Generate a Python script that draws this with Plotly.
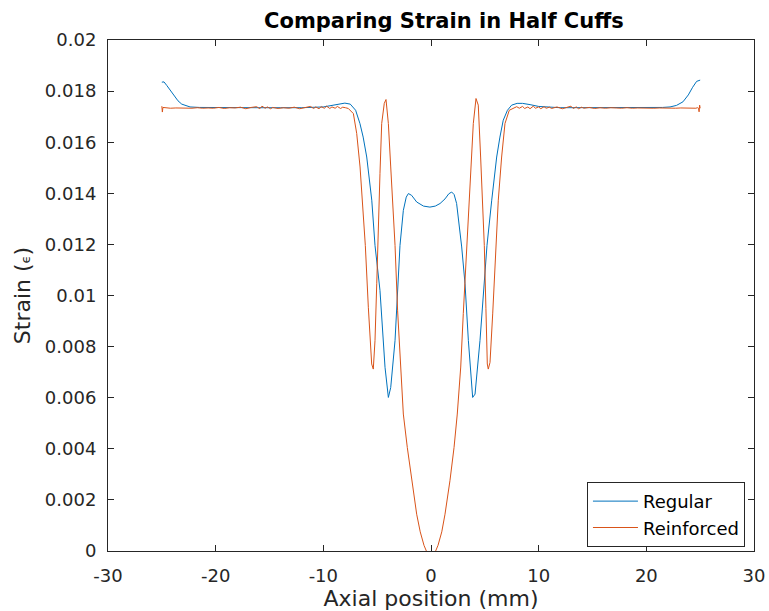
import plotly.graph_objects as go

# ---------------- data ----------------
regular_x = [-25.0, -24.8, -24.54, -24.2, -23.93, -23.5, -23.15, -22.7, -22.38, -21.5,
             -20.0, -18.0, -16.0, -14.0, -12.0, -10.0, -9.1, -8.5, -8.0, -7.5,
             -7.0, -6.6, -6.3, -5.97, -5.5, -5.2, -4.74, -4.27, -3.96, -3.74,
             -3.34, -2.88, -2.57, -2.3, -2.1, -1.8, -1.33, -0.7, -0.1, 0.4,
             0.84, 1.3, 1.65, 1.92, 2.15, 2.38, 2.85, 3.16, 3.47, 3.87,
             4.09, 4.55, 5.01, 5.2, 5.64, 6.1, 6.4, 6.71, 7.1, 7.49,
             8.0, 8.5, 9.2, 10.0, 12.0, 14.0, 16.0, 18.0, 20.0, 21.5,
             22.2, 22.8, 23.4, 23.9, 24.3, 24.67, 25.0]
regular_y = [0.01835, 0.01836, 0.01822, 0.01802, 0.01784, 0.01762, 0.01749, 0.01741, 0.01738, 0.01736,
             0.01735, 0.01735, 0.01735, 0.01735, 0.01735, 0.01738, 0.01745, 0.0175, 0.01753, 0.01749,
             0.01725, 0.01673, 0.0162, 0.01542, 0.01373, 0.01196, 0.0102, 0.00719, 0.00601, 0.0064,
             0.00824, 0.01196, 0.01333, 0.01385, 0.01399, 0.01392, 0.01366, 0.0135, 0.01346, 0.0135,
             0.0136, 0.01378, 0.01398, 0.01405, 0.01395, 0.0136, 0.0119, 0.01046, 0.00824, 0.00601,
             0.00614, 0.00824, 0.01085, 0.01196, 0.01373, 0.01542, 0.0162, 0.01686, 0.01725, 0.01745,
             0.01752, 0.01752, 0.01747, 0.0174, 0.01735, 0.01735, 0.01735, 0.01735, 0.01735, 0.01736,
             0.01738, 0.01744, 0.01758, 0.01785, 0.01815, 0.01838, 0.01843]

reinforced_x = [-25.0, -24.95, -24.9, -24.6, -24.2, -23.7, -23.2, -22.7, -22.2, -21.7,
                -21.2, -20.7, -20.2, -19.7, -19.2, -18.7, -18.2, -17.7, -17.2, -16.7,
                -16.2, -15.9, -15.7, -15.4, -15.2, -14.9, -14.7, -14.2, -13.7, -13.2,
                -12.7, -12.2, -11.7, -11.2, -10.9, -10.7, -10.4, -10.2, -9.9, -9.7,
                -9.4, -9.2, -8.9, -8.7, -8.4, -8.2, -7.95, -7.68, -7.21, -6.9,
                -6.59, -6.34, -6.1, -5.82, -5.51, -5.36, -5.2, -5.04, -4.89, -4.74,
                -4.58, -4.34, -4.18, -3.96, -3.74, -3.5, -3.34, -3.1, -2.85, -2.57,
                -2.2, -1.79, -1.33, -1.0, -0.65, -0.35, 0.0, 0.35, 0.65, 1.0,
                1.3, 1.76, 2.14, 2.44, 2.76, 3.0, 3.31, 3.62, 3.93, 4.18,
                4.39, 4.61, 4.8, 4.95, 5.1, 5.23, 5.32, 5.48, 5.73, 5.94,
                6.08, 6.25, 6.56, 6.87, 7.27, 7.7, 7.96, 8.2, 8.5, 8.7,
                9.0, 9.2, 9.5, 9.7, 10.0, 10.2, 10.5, 10.7, 11.0, 11.2,
                11.7, 12.2, 12.7, 13.0, 13.2, 13.5, 13.7, 14.0, 14.2, 14.7,
                15.2, 15.7, 16.2, 16.7, 17.2, 17.7, 18.2, 18.7, 19.2, 19.7,
                20.2, 20.7, 21.2, 21.7, 22.2, 22.7, 23.2, 23.7, 24.2, 24.6,
                24.75, 24.85, 24.9, 24.95, 25.0]
reinforced_y = [0.01741, 0.01718, 0.01736, 0.01734, 0.01733, 0.01734, 0.01733, 0.01734, 0.01733, 0.01735,
                0.01733, 0.01734, 0.01733, 0.01736, 0.01732, 0.01735, 0.01734, 0.01737, 0.01731, 0.01736,
                0.01739, 0.01731, 0.01741, 0.01733, 0.01738, 0.01731, 0.01736, 0.01732, 0.01735, 0.01733,
                0.01737, 0.01731, 0.01736, 0.01740, 0.01732, 0.01738, 0.01731, 0.01739, 0.01733, 0.01741,
                0.01732, 0.01738, 0.01733, 0.01740, 0.01732, 0.01737, 0.01735, 0.01732, 0.01712, 0.01634,
                0.01503, 0.01346, 0.01196, 0.00954, 0.00732, 0.00712, 0.00824, 0.01046, 0.01222, 0.01477,
                0.01673, 0.01752, 0.01767, 0.01673, 0.01503, 0.01307, 0.01196, 0.0094, 0.0073, 0.00536,
                0.00405, 0.00275, 0.00144, 0.00075, 0.00022, -0.00008, -0.00018, -0.00008, 0.00022, 0.00075,
                0.00144, 0.00275, 0.00405, 0.00536, 0.0072, 0.0093, 0.01176, 0.01412, 0.01673, 0.01771,
                0.01745, 0.01542, 0.01373, 0.01196, 0.0095, 0.00732, 0.00712, 0.00738, 0.00928, 0.01111,
                0.0121, 0.01373, 0.01542, 0.01673, 0.01725, 0.01735, 0.01739, 0.01733, 0.0174, 0.01732,
                0.01738, 0.01731, 0.01741, 0.01733, 0.01738, 0.01731, 0.01739, 0.01733, 0.01737, 0.01732,
                0.01738, 0.01731, 0.01736, 0.01741, 0.01732, 0.01738, 0.01731, 0.01737, 0.01733, 0.01736,
                0.01732, 0.01735, 0.01733, 0.01735, 0.01734, 0.01733, 0.01735, 0.01733, 0.01734, 0.01733,
                0.01734, 0.01733, 0.01734, 0.01733, 0.01734, 0.01733, 0.01734, 0.01733, 0.01734, 0.01733,
                0.01735, 0.01733, 0.01719, 0.01745, 0.01733]

x_ticks = [-30, -20, -10, 0, 10, 20, 30]
x_tick_labels = ["-30", "-20", "-10", "0", "10", "20", "30"]
y_ticks = [0, 0.002, 0.004, 0.006, 0.008, 0.01, 0.012, 0.014, 0.016, 0.018, 0.02]
y_tick_labels = ["0", "0.002", "0.004", "0.006", "0.008", "0.01", "0.012", "0.014", "0.016", "0.018", "0.02"]

# ---------------- figure ----------------
AX = "#262626"
FONT = "DejaVu Sans"

fig = go.Figure()
fig.add_trace(go.Scatter(x=regular_x, y=regular_y, mode="lines", name="Regular",
                         line=dict(color="#0072BD", width=1)))
fig.add_trace(go.Scatter(x=reinforced_x, y=reinforced_y, mode="lines", name="Reinforced",
                         line=dict(color="#D95319", width=1)))

axis_common = dict(showline=True, linecolor=AX, linewidth=1, mirror="ticks",
                   ticks="inside", ticklen=6, tickcolor=AX, tickwidth=1,
                   showgrid=False, zeroline=False, automargin=False,
                   tickfont=dict(family=FONT, size=18, color=AX))

fig.update_xaxes(range=[-30, 30], tickvals=x_ticks, ticktext=x_tick_labels,
                 ticklabelstandoff=8,
                 title=dict(text="Axial position (mm)", font=dict(family=FONT, size=22, color=AX),
                            standoff=5),
                 **axis_common)
fig.update_yaxes(range=[0, 0.02], tickvals=y_ticks, ticktext=y_tick_labels,
                 ticklabelstandoff=7,
                 title=dict(text="Strain (<span style='font-size:13px'>ϵ</span>)",
                            font=dict(family=FONT, size=22, color=AX), standoff=8),
                 **axis_common)

fig.update_layout(
    width=769, height=611,
    margin=dict(l=108, r=15, t=40, b=60),
    paper_bgcolor="white", plot_bgcolor="white",
    title=dict(text="<b>Comparing Strain in Half Cuffs</b>", x=0.52, xanchor="center",
               xref="paper", y=0.967, yanchor="middle",
               font=dict(family=FONT, size=21, color="black")),
    legend=dict(x=0.986, y=0.008, xanchor="right", yanchor="bottom",
                bgcolor="white", bordercolor=AX, borderwidth=1,
                font=dict(family=FONT, size=18, color="black"),
                tracegroupgap=0, itemwidth=45),
    showlegend=True,
)

fig.write_html("out.html")
